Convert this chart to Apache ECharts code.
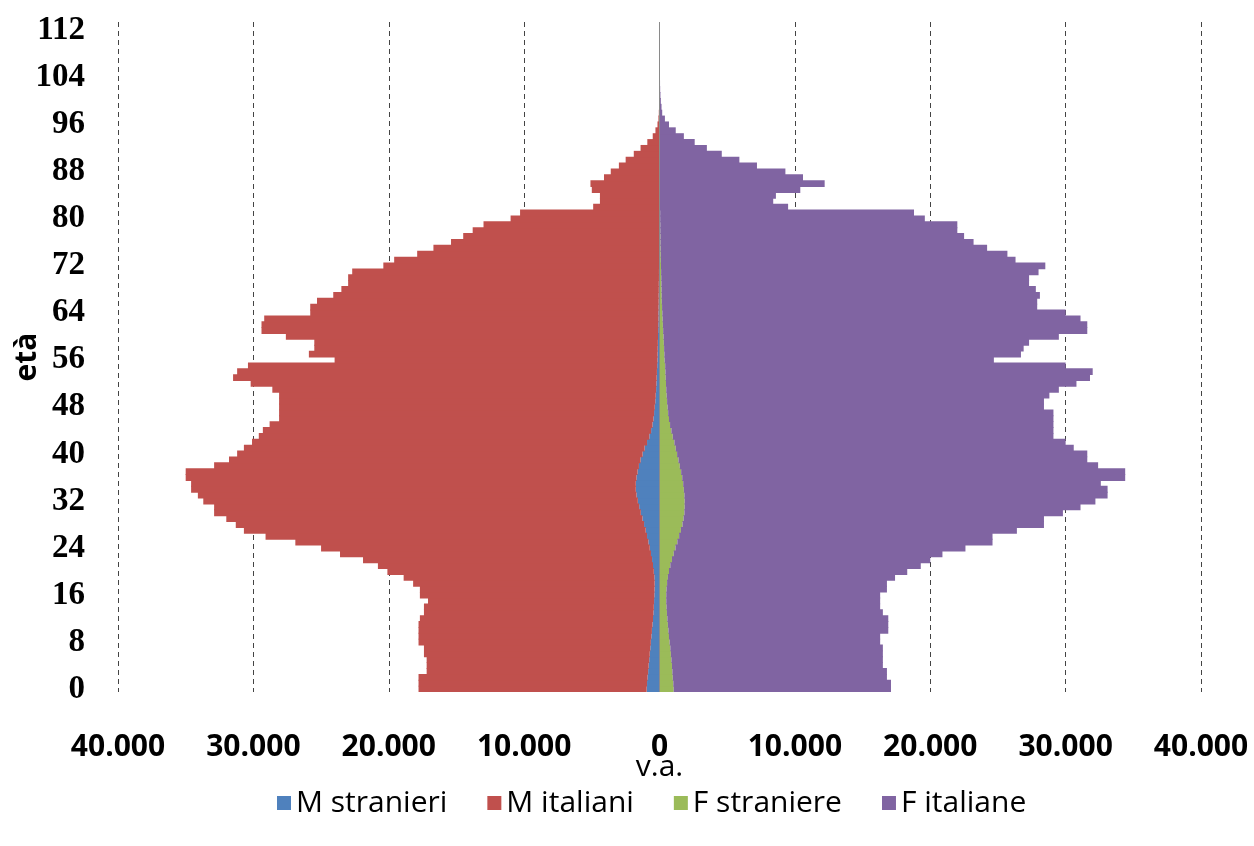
<!DOCTYPE html>
<html>
<head>
<meta charset="utf-8">
<script src="https://cdn.jsdelivr.net/npm/echarts@6/dist/echarts.min.js"></script>
<style>
html,body{margin:0;padding:0;background:#fff;}
#chart{width:1254px;height:846px;}
</style>
</head>
<body>
<div id="chart"></div>
<script>
// Age categories 0..113
var ages = [];
for (var a = 0; a <= 113; a++) ages.push(String(a));

var seriesNames = ['M stranieri', 'M italiani', 'F straniere', 'F italiane'];
var xTicks = [-40000, -30000, -20000, -10000, 0, 10000, 20000, 30000, 40000];

// Males (counts, drawn to the left)
var mStranieri = [950,920,880,840,800,760,720,680,640,600,
560,520,480,450,420,400,380,370,360,380,
420,480,550,630,720,820,920,1020,1140,1260,
1380,1500,1600,1700,1750,1750,1700,1620,1520,1400,
1250,1100,920,750,620,520,450,400,350,310,
280,250,230,210,190,170,150,140,130,120,
110,100,90,80,80,70,60,60,50,50,
40,40,30,30,30,30,20,20,20,20,
20,10,10,10,10,10,10,10,10,10,
10,0,0,0,0,0,0,0,0,0,
0,0,0,0,0,0,0,0,0,0,
0,0,0,0];

var mItaliani = [16850,16880,16920,16360,16400,16440,16680,16720,17160,17200,
17240,17280,17220,16950,16980,16700,17320,17330,17840,18520,
19680,20320,21350,22970,24280,26080,28180,29680,30160,30740,
31520,31400,32100,32400,32850,32850,33300,33380,31380,30400,
29950,29600,29180,28850,28680,28280,27650,27700,27750,27790,
27820,28350,29970,31290,31010,30230,23850,25760,25370,25380,
27490,29300,29310,29120,25720,25730,25240,24040,23450,22950,
22960,22660,20370,19570,17870,16670,15380,14480,13780,12980,
10980,10290,4890,4390,4390,4990,5090,4090,3590,2990,
2490,1900,1400,900,500,300,150,80,50,30,
20,12,8,5,4,3,2,2,1,1,
1,0,0,0];

// Females (counts, drawn to the right)
var fStraniere = [1050,1020,980,950,920,880,840,800,750,700,
660,620,580,550,520,500,500,520,560,620,
700,800,920,1050,1180,1320,1450,1580,1700,1780,
1840,1860,1860,1840,1800,1750,1680,1600,1500,1400,
1300,1200,1100,980,880,780,700,640,600,560,
530,500,480,460,440,420,380,360,340,320,
300,270,250,230,210,190,170,160,150,140,
130,120,110,100,90,80,70,70,60,60,
50,50,30,30,30,20,20,20,20,10,
10,10,10,10,10,0,0,0,0,0,
0,0,0,0,0,0,0,0,0,0,
0,0,0,0];

var fItaliane = [16050,16080,15820,15850,15580,15620,15660,15700,15550,15600,
16240,16280,16320,15950,15780,15800,15800,16280,16240,16780,
17600,18500,19080,19850,21420,23280,23150,24820,26700,26620,
27960,29240,30340,31260,31300,30850,32720,32800,30900,30200,
30300,29400,28900,28120,28220,28320,28400,28460,27800,27840,
28270,29000,30320,31340,31560,29580,24320,26340,26560,26980,
29200,31330,31350,30870,29790,27710,27730,27940,27650,27160,
27170,27880,28390,26200,25610,24120,23130,22430,21940,21940,
19550,18750,9470,8370,8570,10380,12180,10580,9280,7190,
5890,4590,3490,2590,1790,1200,700,400,200,150,
100,70,50,40,30,25,20,15,12,10,
8,6,5,4];

var colors = ['#4F81BD', '#C0504D', '#9BBB59', '#8064A2'];

function neg(arr) { return arr.map(function (v) { return -v; }); }
function fmt(v) {
  var s = String(Math.abs(v));
  return s.replace(/\B(?=(\d{3})+(?!\d))/g, '.');
}

var chart = echarts.init(document.getElementById('chart'), null, {renderer: 'canvas'});

function barSeries(name, data, color, extra) {
  var s = {
    name: name,
    type: 'bar',
    stack: 'pyr',
    data: data,
    barWidth: 6.8,
    itemStyle: {color: color, borderWidth: 0},
    emphasis: {disabled: true},
    animation: false
  };
  if (extra) for (var k in extra) s[k] = extra[k];
  return s;
}

chart.setOption({
  backgroundColor: '#ffffff',
  animation: false,
  grid: {left: 118, right: 53, top: 22, bottom: 154, containLabel: false, outerBoundsMode: 'none'},
  legend: {
    data: seriesNames,
    top: 783,
    left: 272,
    icon: 'rect',
    itemWidth: 14,
    itemHeight: 14,
    itemGap: 40,
    textStyle: {fontFamily: 'Open Sans', fontSize: 30, color: '#000'},
    selectedMode: false
  },
  xAxis: {
    type: 'value',
    min: xTicks[0],
    max: xTicks[xTicks.length - 1],
    interval: 10000,
    name: 'v.a.',
    nameLocation: 'middle',
    nameGap: 60,
    nameMoveOverlap: false,
    nameTextStyle: {fontFamily: 'Open Sans', fontSize: 30, color: '#000'},
    axisLine: {show: false},
    axisTick: {show: false},
    axisLabel: {
      formatter: fmt,
      margin: 40,
      fontFamily: 'Open Sans',
      fontWeight: 'bold',
      fontSize: 30,
      color: '#000'
    },
    splitLine: {show: true, lineStyle: {color: '#444', width: 1, type: [5, 4]}}
  },
  yAxis: {
    type: 'category',
    data: ages,
    name: 'età',
    nameLocation: 'middle',
    nameGap: 76,
    nameRotate: 90,
    nameMoveOverlap: false,
    nameTextStyle: {fontFamily: 'Open Sans', fontWeight: 'bold', fontSize: 30, color: '#000'},
    axisLine: {show: false},
    axisTick: {show: false},
    axisLabel: {
      interval: 7,
      margin: 33,
      fontFamily: 'Liberation Serif',
      fontWeight: 'bold',
      fontSize: 33,
      color: '#000'
    },
    splitLine: {show: false}
  },
  series: [
    barSeries(seriesNames[0], neg(mStranieri), colors[0], {
      markLine: {
        silent: true,
        symbol: ['none', 'none'],
        label: {show: false},
        lineStyle: {color: '#8a8a8a', width: 1, type: 'solid'},
        data: [{xAxis: 0}],
        animation: false
      }
    }),
    barSeries(seriesNames[1], neg(mItaliani), colors[1]),
    barSeries(seriesNames[2], fStraniere, colors[2]),
    barSeries(seriesNames[3], fItaliane, colors[3])
  ]
});
</script>
</body>
</html>
